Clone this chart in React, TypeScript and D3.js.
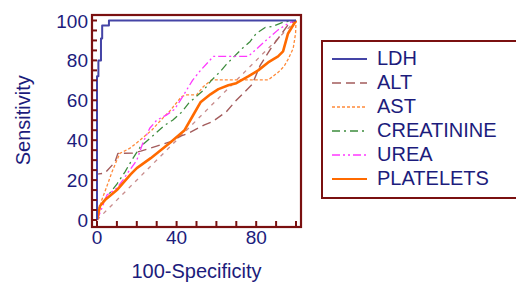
import React from "react";
import * as d3 from "d3";

type Pt = [number, number];

const xTickLabels = [0, 40, 80];
const yTickLabels = [0, 20, 40, 60, 80, 100];
const xMinorTicks = d3.range(0, 101, 10);
const yMinorTicks = d3.range(0, 101, 5);

const seriesNames = ["LDH", "ALT", "AST", "CREATININE", "UREA", "PLATELETS"];

const ldh: Pt[] = [[0, 0], [0, 72], [0.7, 72], [0.7, 80], [2, 80], [2, 91], [2.6, 91], [2.6, 97.5], [6, 97.5], [6, 100], [100, 100]];
const alt: Pt[] = [[0, 0], [0, 23], [4, 23.5], [9, 29], [10.5, 33.4], [18, 33.5], [22, 34.5], [30, 37], [37, 39.3], [42, 42], [46, 43.5], [54, 47.7], [58, 49.3], [65, 54.3], [70, 60], [78, 68], [82, 77.5], [88, 87], [90.5, 90.3], [96, 97.8], [100, 100]];
const ast: Pt[] = [[0, 0], [2.4, 10], [5, 17], [7.5, 24], [10, 30], [11.5, 33.4], [16.6, 36], [21.6, 40], [27.5, 45], [32.5, 50.5], [36.5, 54.5], [42.5, 61.9], [45, 62.7], [50, 62.7], [53.5, 66.9], [57.5, 70.2], [86, 70.2], [91, 74], [94, 77], [96, 80.5], [98.6, 86], [99.8, 93.7], [100, 100]];
const creatinine: Pt[] = [[0, 0], [1, 6], [5, 11.7], [10, 18], [14, 24], [17.5, 30], [22, 37], [29, 43], [34, 47.5], [38, 50], [42.5, 54], [46, 58.5], [50, 62], [53.5, 65], [57.5, 70], [62, 74.5], [65, 78], [68.5, 81.5], [73, 86], [77, 89.5], [80, 93.5], [84.5, 96.5], [88, 97], [94, 99.3], [100, 100]];
const urea: Pt[] = [[0, 0], [1.5, 3.5], [5, 12.5], [10, 16], [13, 20], [15, 23], [20, 30], [23, 38.5], [26.5, 46], [30, 50], [35, 52.7], [39, 55.5], [42.5, 61], [48, 70], [52, 75], [58.5, 82], [76, 82], [81, 86.5], [86, 91], [91, 95.3], [96, 98.5], [100, 100]];
const platelets: Pt[] = [[0, 0], [1.5, 7], [4, 10], [10, 15], [17, 23], [20, 26], [27, 31], [37, 39], [44, 45], [48, 52], [52, 59], [57, 63], [61, 65.6], [66, 67.5], [70, 68.6], [76, 72], [81, 75], [86, 79], [91, 82], [93.5, 84.5], [96, 93.5], [100, 100]];
const reference: Pt[] = [[0, 0], [100, 100]];

const seriesData = [ldh, alt, ast, creatinine, urea, platelets];
const seriesColors = ["#4444a6", "#a35c5c", "#ff8a3a", "#3d8c3d", "#ff38ff", "#ff6a00"];
const seriesDash = ["none", "9,5", "3,2", "8,4,2,4", "8,3,2,3,2,3", "none"];
const seriesWidth = [2, 1.4, 1.3, 1.3, 1.3, 2.6];

const FRAME = "#7a1010";
const TEXT = "#1c1c7c";
const FONT = "'Liberation Sans', Arial, sans-serif";

export default function App() {
  const x = d3.scaleLinear().domain([0, 100]).range([97, 296]);
  const y = d3.scaleLinear().domain([0, 100]).range([220, 20.5]);
  const line = d3.line<Pt>().x((d) => x(d[0])).y((d) => y(d[1]));
  const frame = { l: 92, r: 301, t: 15, b: 227 };

  const legX = 322;
  const legY = 41;
  const rowBase = (i: number) => 65 + i * 24;

  return (
    <div style={{ position: "fixed", left: 0, top: 0 }}>
      <svg width={516} height={284} style={{ display: "block", background: "#fff" }}>
        {/* reference diagonal */}
        <path d={line(reference) || ""} fill="none" stroke="#c88c8c" strokeWidth={1.3} strokeDasharray="4,5" />
        {[1, 2, 3, 4, 5, 0].map((i) => (
          <path
            key={seriesNames[i]}
            d={line(seriesData[i]) || ""}
            fill="none"
            stroke={seriesColors[i]}
            strokeWidth={seriesWidth[i]}
            strokeDasharray={seriesDash[i]}
            strokeLinejoin="round"
          />
        ))}
        {/* frame */}
        <rect x={frame.l} y={frame.t} width={frame.r - frame.l} height={frame.b - frame.t} fill="none" stroke={FRAME} strokeWidth={2.2} />
        {xMinorTicks.map((t) => (
          <line key={"xt" + t} x1={x(t)} x2={x(t)} y1={frame.b} y2={frame.b - 6} stroke={FRAME} strokeWidth={2} />
        ))}
        {yMinorTicks.map((t) => (
          <line key={"yt" + t} x1={frame.l} x2={frame.l + 5} y1={y(t)} y2={y(t)} stroke={FRAME} strokeWidth={2} />
        ))}
        {xTickLabels.map((t) => (
          <text key={"xl" + t} x={x(t)} y={244} textAnchor="middle" fontFamily={FONT} fontSize={19} fill={TEXT}>
            {t}
          </text>
        ))}
        {yTickLabels.map((t) => (
          <text key={"yl" + t} x={88} y={y(t) + 7} textAnchor="end" fontFamily={FONT} fontSize={19} fill={TEXT}>
            {t}
          </text>
        ))}
        <text x={196.5} y={278} textAnchor="middle" fontFamily={FONT} fontSize={20} fill={TEXT}>
          100-Specificity
        </text>
        <text
          transform={`translate(30,${(y(0) + y(100)) / 2}) rotate(-90)`}
          textAnchor="middle"
          fontFamily={FONT}
          fontSize={20}
          fill={TEXT}
        >
          Sensitivity
        </text>
        {/* legend */}
        <rect x={legX} y={legY} width={220} height={157} fill="none" stroke={FRAME} strokeWidth={2} />
        {seriesNames.map((n, i) => (
          <g key={"lg" + n}>
            <line
              x1={332}
              x2={367}
              y1={rowBase(i) - 6}
              y2={rowBase(i) - 6}
              stroke={seriesColors[i]}
              strokeWidth={i === 0 || i === 5 ? 2 : 1.4}
              strokeDasharray={seriesDash[i]}
            />
            <text x={377} y={rowBase(i)} fontFamily={FONT} fontSize={20} fill={TEXT}>
              {n}
            </text>
          </g>
        ))}
      </svg>
    </div>
  );
}
